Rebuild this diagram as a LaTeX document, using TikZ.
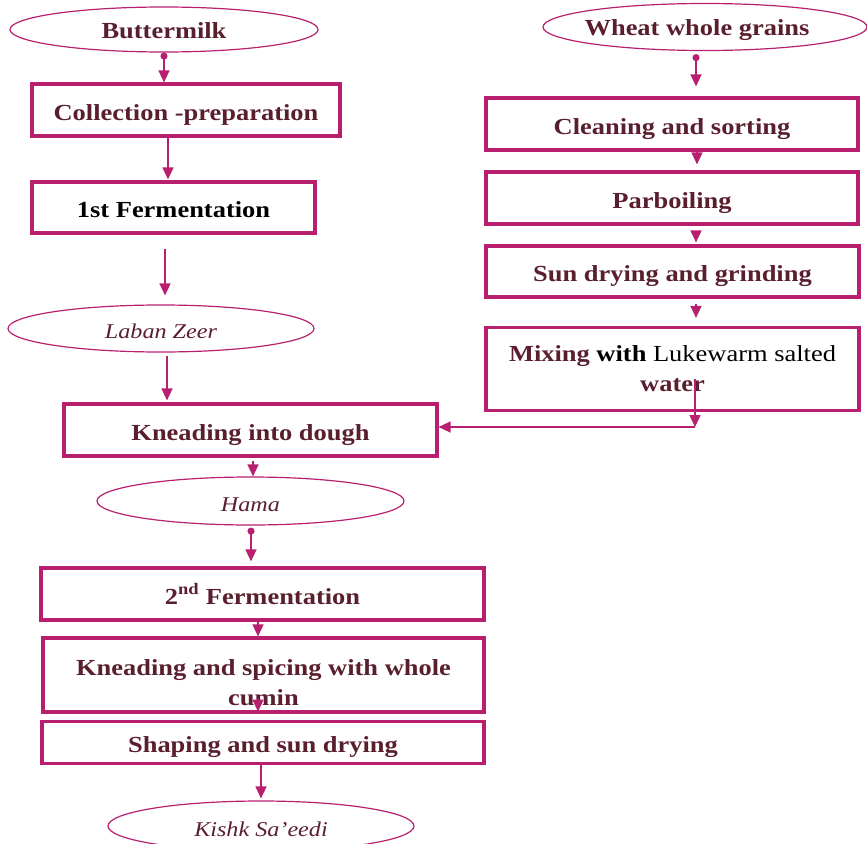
\documentclass[tikz,border=0pt]{standalone}
\usepackage{fontspec}
\setmainfont{Liberation Serif}[FakeStretch=1.15]
\usetikzlibrary{shapes.geometric,arrows.meta}
\definecolor{lin}{HTML}{B8206F}
\definecolor{txt}{HTML}{5A1F2E}
\tikzset{
  box/.style={draw=lin,line width=3.2pt,rectangle,inner sep=0pt,text=txt,
    font=\fontsize{23}{30}\selectfont\bfseries,align=center},
  one/.style={text height=20pt,text depth=0pt},
  oval/.style={draw=lin,line width=1.2pt,ellipse,inner sep=0pt,text=txt},
  ovb/.style={oval,font=\fontsize{23}{30}\selectfont\bfseries,text height=17pt,text depth=0pt},
  ovi/.style={oval,font=\fontsize{21}{26}\selectfont\itshape,text height=20pt,text depth=0pt},
  arr/.style={draw=lin,line width=1.5pt,-{Triangle[width=11pt,length=12pt]}},
  darr/.style={draw=lin,line width=1.5pt,{Circle[length=7pt]}-{Triangle[width=11pt,length=12pt]}},
}
\begin{document}
\begin{tikzpicture}[x=1pt,y=-1pt]
\useasboundingbox (0,0) rectangle (867,843);
% left column
\node[ovb,minimum width=308,minimum height=45] (butter) at (164,29.5) {Buttermilk};
\node[box,one,minimum width=308,minimum height=52] (coll) at (186,110) {Collection -preparation};
\node[box,one,minimum width=283,minimum height=51,text=black] (ferm1) at (173.5,207.5) {1st Fermentation};
\node[ovi,minimum width=306,minimum height=47] (laban) at (161,328.5) {Laban Zeer};
\node[box,one,minimum width=373,minimum height=52] (knead) at (250.5,430) {Kneading into dough};
\node[ovi,minimum width=307,minimum height=48] (hama) at (250.5,501) {Hama};
\node[box,one,minimum width=443,minimum height=52] (ferm2) at (262.5,594) {2\textsuperscript{nd} Fermentation};
\node[box,minimum width=441,minimum height=74] (spice) at (263.5,675) {};
\node[font=\fontsize{23}{30}\selectfont\bfseries,align=center,text=txt,inner sep=0pt] (spicetxt) at (263.5,683) {Kneading and spicing with whole\\cumin};
\node[box,one,minimum width=442,minimum height=42] (shape) at (263,742.5) {Shaping and sun drying};
\node[ovi,minimum width=306,minimum height=50] (kishk) at (261,826) {Kishk Sa’eedi};
% right column
\node[ovb,minimum width=324,minimum height=47] (wheat) at (705,27) {\hspace*{-16pt}Wheat whole grains};
\node[box,one,minimum width=372,minimum height=52] (clean) at (672,124) {Cleaning and sorting};
\node[box,one,minimum width=372,minimum height=52] (parb) at (672,198) {Parboiling};
\node[box,one,minimum width=373,minimum height=51] (sun) at (672.5,271.5) {Sun drying and grinding};
\node[box,minimum width=373,minimum height=83] (mix) at (672.5,369) {Mixing \textcolor{black}{with} \textcolor{black}{\mdseries Lukewarm salted}\\water};
\coordinate (corner) at (695,427);
% connectors left
\draw[darr] (butter.south -| 164,0) -- (coll.north -| 164,0);
\draw[arr] (coll.south -| 168,0) -- ([yshift=1]ferm1.north -| 168,0);
\draw[arr] ([yshift=-14]ferm1.south -| 165,0) -- ([yshift=9]laban.north -| 165,0);
\draw[arr] ([yshift=-3]laban.south -| 167,0) -- ([yshift=2]knead.north -| 167,0);
\draw[arr] ([yshift=-3]knead.south -| 253,0) -- (hama.north -| 253,0);
\draw[darr] ([yshift=-2]hama.south -| 251,0) -- ([yshift=5]ferm2.north -| 251,0);
\draw[arr] (ferm2.south -| 258,0) -- (spice.north -| 258,0);
\draw[arr] ([yshift=15]spice.south -| 258,0) -- ([yshift=2]spice.south -| 258,0);
\draw[arr] (shape.south -| 261,0) -- ([yshift=2]kishk.north -| 261,0);
% connectors right
\draw[darr] ([yshift=-3]wheat.south -| 696,0) -- ([yshift=10]clean.north -| 696,0);
\draw[arr] (clean.south -| 697,0) -- ([yshift=6]parb.north -| 697,0);
\draw[arr] ([yshift=-5]parb.south -| 696,0) -- ([yshift=2]sun.north -| 696,0);
\draw[arr] ([yshift=-5]sun.south -| 696,0) -- ([yshift=8]mix.north -| 696,0);
\draw[arr] ([yshift=-10]mix.center -| corner) -- (corner);
\draw[arr] (corner) -- (knead.east |- corner);
\end{tikzpicture}
\end{document}
